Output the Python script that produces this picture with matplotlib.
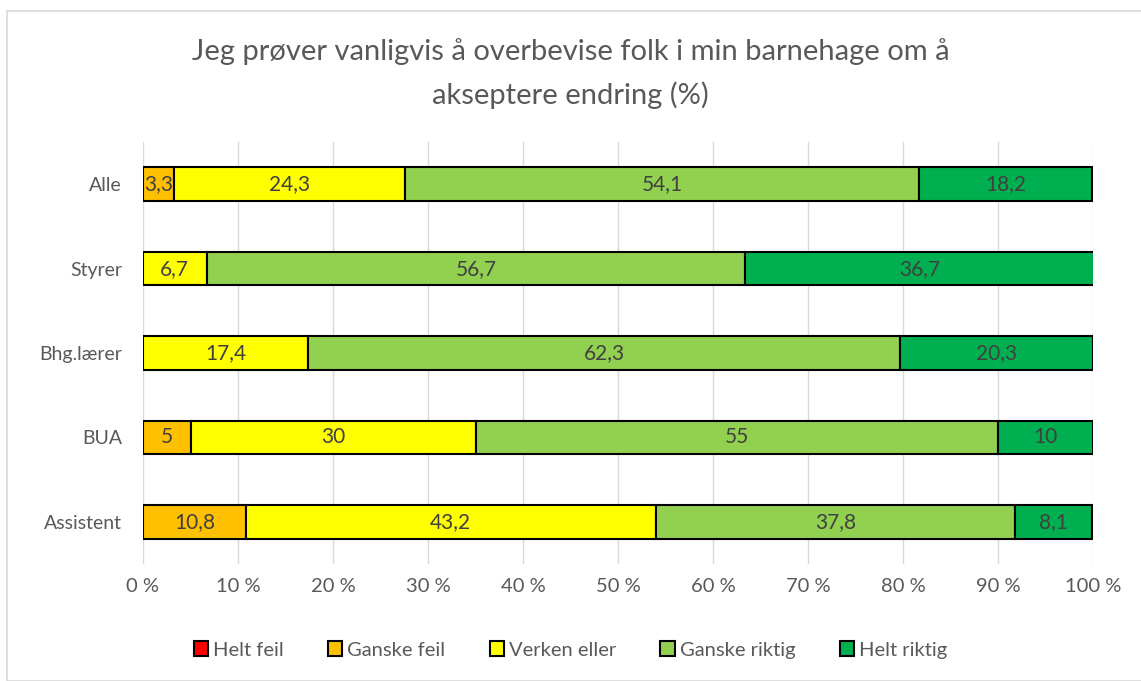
import matplotlib
matplotlib.use("Agg")
import matplotlib.pyplot as plt
from matplotlib.patches import Rectangle

categories = ["Alle", "Styrer", "Bhg.lærer", "BUA", "Assistent"]
series_names = ["Helt feil", "Ganske feil", "Verken eller", "Ganske riktig", "Helt riktig"]
helt_feil = [0, 0, 0, 0, 0]
ganske_feil = [3.3, 0, 0, 5, 10.8]
verken_eller = [24.3, 6.7, 17.4, 30, 43.2]
ganske_riktig = [54.1, 56.7, 62.3, 55, 37.8]
helt_riktig = [18.2, 36.7, 20.3, 10, 8.1]
colors = ["#FF0000", "#FFC000", "#FFFF00", "#92D050", "#00B050"]
xticks = [0, 10, 20, 30, 40, 50, 60, 70, 80, 90, 100]

plt.rcParams['font.family'] = ['Lato', 'DejaVu Sans']
txt = "#595959"

W, H = 1141, 681
fig = plt.figure(figsize=(W/100, H/100), dpi=100)
fig.patches.append(Rectangle((7/W, 0), 1, 1 - 11/H, transform=fig.transFigure,
                             fill=False, edgecolor="#D9D9D9", linewidth=1.2))

ax = fig.add_axes([143/W, 1 - 564/H, (1093-143)/W, (564-142)/H])
data = [helt_feil, ganske_feil, verken_eller, ganske_riktig, helt_riktig]
y = list(range(len(categories)))
left = [0.0]*len(categories)
for name, vals, c in zip(series_names, data, colors):
    ax.barh(y, vals, left=left, height=0.4, color=c, edgecolor="black",
            linewidth=1.5, label=name, zorder=3)
    for yi, v, l in zip(y, vals, left):
        if v > 0:
            lab = f"{v:g}".replace(".", ",")
            ax.text(l + v/2, yi, lab, ha="center", va="center", fontsize=15, color="#404040", zorder=4)
    left = [a + b for a, b in zip(left, vals)]

ax.set_ylim(len(categories) - 0.5, -0.5)
ax.set_xlim(0, 100)
ax.set_yticks(y)
ax.set_yticklabels(categories, fontsize=14, color=txt)
ax.set_xticks(xticks)
ax.set_xticklabels([f"{t} %" for t in xticks], fontsize=14.5, color=txt)
ax.tick_params(axis="y", length=0, pad=15)
ax.tick_params(axis="x", length=0, pad=10)
ax.grid(axis="x", color="#D9D9D9", linewidth=1, zorder=0)
for s in ax.spines.values():
    s.set_visible(False)

fig.text(0.5, 1 - 52/H, "Jeg prøver vanligvis å overbevise folk i min barnehage om å",
         ha="center", va="center", fontsize=21, color=txt)
fig.text(0.5, 1 - 95/H, "akseptere endring (%)", ha="center", va="center", fontsize=21, color=txt)

fig.legend(loc="center", bbox_to_anchor=(0.5, 1 - 650/H), ncol=5, frameon=False,
           fontsize=14.5, labelcolor=txt, handlelength=0.7, handleheight=0.7,
           handletextpad=0.25, columnspacing=2.2)

fig.savefig("out.png", dpi=100)
